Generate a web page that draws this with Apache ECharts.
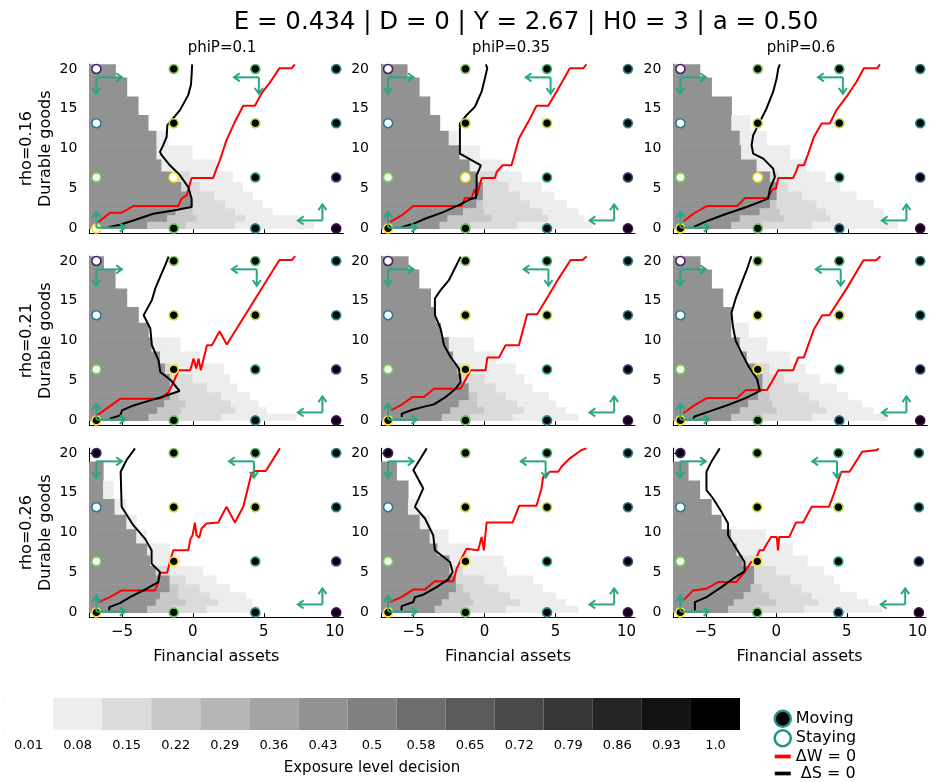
<!DOCTYPE html>
<html><head><meta charset="utf-8">
<script src="https://cdn.jsdelivr.net/npm/echarts@6/dist/echarts.min.js"></script>
<style>html,body{margin:0;padding:0;background:#fff}#c{width:930px;height:782px}</style>
</head><body><div id="c"></div>
<script>
// ---------------- text ----------------
const supTitle = 'E = 0.434 | D = 0 | Y = 2.67 | H0 = 3 | a = 0.50';
const colTitles = ['phiP=0.1', 'phiP=0.35', 'phiP=0.6'];
const rowTitles = ['rho=0.16', 'rho=0.21', 'rho=0.26'];
const yAxisTitle = 'Durable goods';
const xAxisTitle = 'Financial assets';
const yTicks = [0, 5, 10, 15, 20];
const xTicks = [-5, 0, 5, 10];
const colorbarTicks = ['0.01','0.08','0.15','0.22','0.29','0.36','0.43','0.5','0.58','0.65','0.72','0.79','0.86','0.93','1.0'];
const colorbarTitle = 'Exposure level decision';
const legendNames = ['Moving', 'Staying', 'ΔW = 0', ' ΔS = 0'];

// ---------------- state grid points ----------------
const stateX = [-6.8, -1.35, 4.4, 10.1];
const stateY = [0, 6.4, 13.2, 20];
// tone of the marker edge, per x index then y index (0..1 on viridis)
const edgeTone = [[1.0, 0.8, 0.4, 0.08], [0.75, 1.0, 0.9, 0.8], [0.45, 0.65, 0.88, 0.7], [0.02, 0.25, 0.5, 0.5]];
// staying states [xIndex, yIndex]
const staying_r1c1 = [[0,0],[0,1],[0,2],[0,3],[1,1]];
const staying_r1c2 = [[0,1],[0,2],[0,3],[1,1]];
const staying_r1c3 = [[0,1],[0,2],[0,3],[1,1]];
const staying_r2c1 = [[0,1],[0,2],[0,3]];
const staying_r2c2 = [[0,1],[0,2],[0,3]];
const staying_r2c3 = [[0,1],[0,2],[0,3]];
const staying_r3c1 = [[0,1],[0,2]];
const staying_r3c2 = [[0,1],[0,2]];
const staying_r3c3 = [[0,1],[0,2]];

// ---------------- exposure map ----------------
// durable-goods row edges (top to bottom)
const rowEdges = [20.6, 18.9, 16.5, 14.2, 12.2, 10.4, 8.6, 7.1, 5.8, 4.6, 3.5, 2.5, 1.6, 0.8, -0.05];
// exposure level of each band, left to right
const exposureLevels = [0.43, 0.22, 0.15, 0.08];
// per row: right end (financial assets) of each band
const exposure_r1c1 = [[-5.45,-5.45,-5.45,-5.45],[-4.65,-4.65,-4.65,-4.65],[-3.85,-3.85,-3.85,-3.85],[-3.15,-3.15,-3.15,-3.15],[-2.55,-2.55,-2.55,-1.75],[-2.55,-2.55,-2.55,-0.05],[-2.2,-2.2,-2.2,1.65],[-1.5,-1.5,-0.2,2.8],[-0.8,-0.8,0.5,3.5],[-0.1,-0.1,1.5,4.2],[0.0,0.0,2.3,4.9],[-1.2,0.0,3.0,5.6],[-1.8,0.3,3.7,7.4],[-3.2,-0.5,3.0,8.5]];
const exposure_r1c2 = [[-5.45,-5.45,-5.45,-5.45],[-4.6,-4.6,-4.6,-4.6],[-3.85,-3.85,-3.85,-3.85],[-3.15,-3.15,-3.15,-3.15],[-2.51,-2.51,-2.51,-1.93],[-1.74,-1.74,-1.74,-0.33],[-1.03,-1.03,-1.03,1.2],[-0.56,-0.56,0.98,2.6],[-0.1,-0.1,1.7,4.0],[-0.1,-0.1,2.5,4.9],[-0.56,-0.1,3.2,5.8],[-1.5,0.0,4.1,6.6],[-2.6,0.5,4.5,7.0],[-3.15,-1.0,2.3,7.6]];
const exposure_r1c3 = [[-5.42,-5.42,-5.42,-5.42],[-4.6,-4.6,-4.6,-4.6],[-3.19,-3.19,-3.19,-3.19],[-3.19,-3.19,-3.19,-1.9],[-2.6,-2.6,-2.6,-0.72],[-2.5,-2.5,-2.5,0.92],[-1.41,-1.41,-1.41,2.1],[-0.47,-0.47,0.1,3.4],[0.0,0.0,0.8,4.44],[0.0,0.0,1.8,5.6],[-0.47,0.0,2.8,6.8],[-1.2,0.2,3.5,7.5],[-2.6,0.5,3.8,7.5],[-3.2,-1.0,2.5,8.5]];
const exposure_r2c1 = [[-6.29,-6.29,-6.29,-6.29],[-5.47,-5.47,-5.47,-5.47],[-4.65,-4.65,-4.65,-4.65],[-3.83,-3.83,-3.83,-3.83],[-3.13,-3.13,-3.13,-3.13],[-2.9,-2.9,-2.9,-0.9],[-2.3,-2.3,-2.3,0.5],[-1.95,-1.95,-1.0,2.16],[-1.6,-1.6,0.0,2.6],[-1.6,-1.6,1.0,3.1],[-1.6,-1.0,2.0,4.0],[-2.0,-0.5,2.7,4.6],[-2.5,-0.8,3.0,5.2],[-3.1,-1.0,2.0,7.3]];
const exposure_r2c2 = [[-5.38,-5.38,-5.38,-5.38],[-4.62,-4.62,-4.62,-4.62],[-3.8,-3.8,-3.8,-3.8],[-3.45,-3.45,-3.45,-3.45],[-3.1,-3.1,-3.1,-3.1],[-2.5,-2.5,-2.5,-0.76],[-2.2,-2.2,-2.2,0.75],[-1.9,-1.9,-1.0,2.17],[-1.6,-1.6,0.0,2.8],[-1.1,-1.1,0.8,3.35],[-1.1,-0.5,1.5,4.5],[-1.8,-0.5,2.3,5.0],[-2.4,0.0,2.8,5.7],[-3.0,-1.0,2.0,6.6]];
const exposure_r2c3 = [[-5.4,-5.4,-5.4,-5.4],[-4.6,-4.6,-4.6,-4.6],[-3.8,-3.8,-3.8,-3.8],[-3.2,-3.2,-3.2,-3.2],[-3.2,-3.2,-3.2,-2.0],[-2.6,-2.6,-2.6,-0.7],[-2.1,-2.1,-2.1,0.9],[-1.5,-1.5,-0.5,2.0],[-1.0,-1.0,0.5,3.0],[-1.0,-1.0,1.5,4.2],[-1.3,-0.5,2.3,5.0],[-2.0,-0.3,3.0,6.0],[-2.6,0.0,3.5,6.8],[-3.2,-1.0,2.5,7.8]];
const exposure_r3c1 = [[-7.3,-7.3,-7.3,-7.3],[-6.31,-6.31,-6.31,-6.31],[-6.31,-6.31,-6.31,-5.6],[-5.5,-5.5,-5.5,-4.7],[-4.67,-4.67,-4.67,-3.97],[-3.97,-3.97,-3.97,-3.27],[-3.2,-3.2,-3.2,-1.63],[-3.0,-3.0,-3.0,-0.93],[-2.6,-2.6,-1.6,0.71],[-1.63,-1.63,-0.5,1.65],[-1.63,-1.0,0.5,2.59],[-2.3,-1.0,1.2,3.76],[-2.6,-0.5,1.8,4.2],[-3.2,-1.5,1.0,4.7]];
const exposure_r3c2 = [[-7.3,-7.3,-7.3,-7.3],[-6.2,-6.2,-6.2,-6.2],[-5.38,-5.38,-5.38,-5.38],[-5.38,-5.38,-5.38,-4.55],[-4.55,-4.55,-4.55,-3.85],[-3.85,-3.85,-3.85,-2.56],[-3.3,-3.3,-3.3,-1.04],[-2.45,-2.45,-2.45,1.3],[-2.45,-2.45,-1.5,1.55],[-2.0,-2.0,0.0,3.4],[-2.0,-1.5,1.0,4.1],[-2.5,-1.0,1.8,5.0],[-3.0,-0.8,2.5,5.7],[-3.5,-1.5,1.5,6.6]];
const exposure_r3c3 = [[-7.3,-7.3,-7.3,-7.3],[-6.24,-6.24,-6.24,-6.24],[-5.42,-5.42,-5.42,-5.42],[-4.6,-4.6,-4.6,-4.6],[-3.9,-3.9,-3.9,-3.9],[-3.19,-3.19,-3.19,-0.73],[-2.8,-2.8,-2.8,1.15],[-2.37,-2.37,-1.0,2.2],[-1.55,-1.55,0.0,3.37],[-1.55,-1.55,1.0,4.08],[-1.8,-1.0,1.8,4.5],[-2.3,-0.5,2.5,5.7],[-3.0,0.0,3.0,6.5],[-3.4,-1.5,2.0,7.5]];

// ---------------- ΔW = 0 and ΔS = 0 curves ----------------
const dW_r1c1 = [[-6.66,0.79],[-5.84,1.97],[-5.02,1.97],[-4.2,2.8],[-1.03,2.8],[-0.8,3.73],[-0.44,4.15],[-0.09,6.33],[1.43,6.33],[1.67,7.5],[1.9,8.55],[2.37,11.07],[2.96,13.37],[3.55,15.38],[4.37,15.38],[4.84,16.94],[5.55,18.61],[6.09,20.08],[6.95,20.08],[7.19,20.58]];
const dS_r1c1 = [[-5.96,0.16],[-5.14,0.46],[-4.2,1.0],[-2.79,1.84],[-1.38,2.26],[-0.09,2.68],[-0.09,3.73],[-0.33,5.2],[-0.91,6.66],[-1.62,7.92],[-2.2,9.18],[-2.32,9.6],[-2.09,10.44],[-1.85,11.49],[-1.8,12.95],[-1.5,13.58],[-0.91,14.84],[-0.33,16.72],[-0.14,17.98],[-0.09,19.24],[-0.05,20.58]];
const dW_r1c2 = [[-6.67,0.79],[-5.85,1.63],[-5.02,2.81],[-1.62,2.81],[-1.39,3.81],[-0.92,3.81],[-0.7,4.9],[-0.55,4.1],[-0.2,6.33],[0.73,6.33],[0.85,7.08],[1.27,7.92],[1.9,7.92],[2.42,11.27],[3.08,13.37],[3.66,15.38],[4.48,15.38],[5.07,17.15],[6.01,20.08],[6.95,20.08],[7.18,20.58]];
const dS_r1c2 = [[-5.85,0.16],[-5.02,0.58],[-4.2,1.21],[-2.91,2.05],[-1.86,2.89],[-0.92,3.73],[-0.61,3.81],[-0.56,5.19],[-0.56,6.66],[-0.26,7.92],[-1.74,9.39],[-1.74,13.16],[-1.27,14.21],[-0.68,15.26],[-0.21,17.15],[0.02,18.82],[0.19,20.08],[0.09,20.58]];
const dW_r1c3 = [[-6.59,0.87],[-5.89,1.84],[-4.95,2.81],[-2.79,2.81],[-2.25,3.81],[-0.68,3.81],[-0.26,4.98],[-0.07,4.98],[0.1,6.33],[1.15,6.33],[1.39,7.29],[1.5,7.92],[1.9,7.92],[2.21,9.39],[2.61,11.48],[3.15,13.16],[3.73,13.16],[4.2,14.84],[4.91,16.52],[5.61,18.4],[6.13,20.08],[7.07,20.08],[7.26,20.58]];
const dS_r1c3 = [[-5.89,0.16],[-5.77,0.37],[-4.83,1.0],[-3.54,1.84],[-2.13,2.68],[-0.61,3.73],[-0.49,4.98],[-0.14,6.45],[-0.26,7.5],[-0.96,8.76],[-1.67,9.39],[-1.78,10.44],[-1.67,11.69],[-1.2,13.37],[-0.73,15.05],[-0.26,17.15],[-0.02,18.82],[0.1,20.08],[0.21,20.58]];
const dW_r2c1 = [[-6.76,0.63],[-5.94,1.67],[-5.12,2.72],[-2.3,2.72],[-1.71,3.56],[-1.36,4.82],[-1.01,6.29],[-0.19,6.29],[0.05,7.75],[0.24,6.5],[0.4,7.75],[0.56,6.29],[0.99,9.43],[1.34,9.43],[1.88,11.19],[2.39,9.52],[6.1,20.12],[6.97,20.12],[7.21,20.6]];
const dS_r2c1 = [[-5.87,0.21],[-5.12,0.63],[-5.0,1.25],[-4.18,1.88],[-3.24,2.39],[-2.18,2.93],[-0.94,3.69],[-1.55,5.03],[-2.3,6.08],[-2.42,7.54],[-2.89,9.43],[-3.0,11.53],[-3.47,13.2],[-2.89,15.09],[-2.65,16.56],[-2.3,18.03],[-1.95,19.49],[-1.71,20.54]];
const dW_r2c2 = [[-6.62,1.25],[-5.92,1.88],[-5.09,2.93],[-4.27,2.93],[-3.57,3.98],[-1.69,3.98],[-0.99,6.29],[0.07,6.29],[0.19,7.88],[1.01,7.88],[1.48,9.43],[2.42,9.43],[3.0,13.33],[3.71,13.33],[4.53,15.72],[5.23,17.82],[6.06,20.12],[6.9,20.12],[7.2,20.6]];
const dS_r2c2 = [[-5.84,0.42],[-5.84,0.83],[-5.09,1.34],[-4.39,1.67],[-3.57,2.01],[-2.75,2.93],[-2.04,3.98],[-1.69,4.82],[-1.81,6.5],[-2.39,7.96],[-2.86,9.43],[-3.1,11.53],[-3.5,13.2],[-3.5,15.3],[-3.1,16.35],[-2.51,17.61],[-2.04,19.28],[-1.69,20.54]];
const dW_r2c3 = [[-6.6,0.9],[-5.9,1.8],[-4.95,2.8],[-2.8,2.8],[-2.2,3.8],[-0.7,3.8],[-0.3,5.0],[0.1,6.3],[1.15,6.3],[1.5,7.9],[1.9,7.9],[2.6,11.4],[3.2,13.2],[3.7,13.2],[4.9,16.5],[6.1,20.1],[7.0,20.1],[7.3,20.6]];
const dS_r2c3 = [[-5.9,0.2],[-5.8,0.5],[-4.8,1.1],[-3.5,1.9],[-2.2,2.8],[-1.2,3.7],[-1.4,5.2],[-2.0,6.8],[-2.5,8.5],[-2.9,10.0],[-3.1,11.8],[-3.2,13.5],[-2.9,15.3],[-2.5,17.2],[-2.1,19.0],[-1.8,20.6]];
const dW_r3c1 = [[-6.66,1.3],[-5.84,1.92],[-5.02,2.76],[-2.67,2.76],[-2.44,3.81],[-2.32,4.99],[-1.81,4.99],[-1.62,6.41],[-1.38,7.79],[-0.33,7.79],[-0.16,9.26],[-0.02,9.68],[0.14,11.27],[0.26,9.68],[0.45,9.35],[0.61,10.52],[0.97,11.15],[1.79,11.27],[2.37,13.25],[2.96,11.27],[3.55,13.25],[4.13,17.44],[4.37,17.73],[5.14,17.73],[6.13,20.58]];
const dS_r3c1 = [[-5.89,0.25],[-5.89,0.67],[-5.14,1.17],[-4.43,1.92],[-3.26,2.97],[-2.44,3.81],[-2.32,5.07],[-2.91,6.12],[-2.91,7.79],[-3.38,9.26],[-4.2,10.94],[-5.02,13.25],[-5.09,17.65],[-4.67,19.12],[-4.08,20.58]];
const dW_r3c2 = [[-6.67,1.3],[-5.85,1.92],[-5.02,2.89],[-4.2,2.89],[-3.5,3.9],[-2.21,3.9],[-1.97,5.49],[-1.74,6.33],[-1.27,8.0],[-0.45,7.79],[-0.21,9.47],[-0.05,7.79],[0.14,11.27],[1.97,11.27],[2.44,13.37],[3.66,13.37],[4.01,15.55],[4.13,17.02],[4.6,17.65],[5.19,17.65],[5.42,18.28],[6.01,19.33],[6.83,20.37],[7.18,20.58]];
const dS_r3c2 = [[-5.85,0.25],[-5.85,0.79],[-5.02,1.3],[-4.91,1.92],[-4.32,2.22],[-3.38,3.18],[-2.56,4.15],[-2.25,5.07],[-2.44,6.33],[-3.5,7.79],[-3.62,9.68],[-4.2,11.78],[-4.91,13.25],[-4.32,15.55],[-5.02,17.86],[-4.44,19.54],[-4.08,20.58]];
const dW_r3c3 = [[-6.59,1.51],[-5.89,2.76],[-4.95,2.97],[-4.13,3.81],[-2.84,3.81],[-2.25,5.07],[-2.09,5.49],[-1.78,6.33],[-1.55,6.33],[-1.19,7.79],[-0.91,7.79],[-0.73,8.42],[-0.37,9.47],[0.03,9.47],[0.12,7.79],[0.21,9.47],[0.92,9.47],[1.39,11.27],[1.9,11.27],[2.51,13.25],[3.73,13.25],[4.09,14.92],[4.44,16.81],[4.63,17.65],[5.19,17.65],[6.08,20.16],[7.14,20.37],[7.26,20.58]];
const dS_r3c3 = [[-5.77,0.25],[-5.77,1.3],[-4.95,1.92],[-3.89,3.18],[-3.07,4.23],[-2.25,5.15],[-2.25,6.33],[-3.42,9.68],[-3.42,11.15],[-3.89,12.62],[-4.48,14.29],[-4.95,15.34],[-4.95,17.65],[-4.6,18.91],[-4.01,20.58]];

// ---------------- direction arrows [x0, y0, x1, y1] ----------------
const arrows_row1 = [[-6.8,18.95,-5.0,18.95],[-6.8,18.95,-6.8,16.9],[4.65,18.95,2.9,18.95],[4.65,18.95,4.65,16.9],[-6.8,0.1,-6.8,2.1],[-6.8,0.1,-4.75,0.1],[9.13,1.0,7.4,1.0],[9.13,1.0,9.13,3.0]];
const arrows_row2 = [[-6.8,18.95,-5.0,18.95],[-6.8,18.95,-6.8,16.9],[4.5,18.95,2.75,18.95],[4.5,18.95,4.5,16.9],[-6.8,0.1,-6.8,2.1],[-6.8,0.1,-4.75,0.1],[9.13,1.0,7.4,1.0],[9.13,1.0,9.13,3.0]];
const arrows_row3 = [[-6.8,18.95,-5.0,18.95],[-6.8,18.95,-6.8,16.9],[4.3,18.95,2.55,18.95],[4.3,18.95,4.3,16.9],[-6.8,0.1,-6.8,2.1],[-6.8,0.1,-4.75,0.1],[9.13,1.0,7.4,1.0],[9.13,1.0,9.13,3.0]];

// ---------------- layout & style ----------------
const X_MIN = -7.3, X_MAX = 10.6, Y_MIN = -0.6, Y_MAX = 20.6;
const colLeft = [89.3, 381, 673.3];
const rowTop = [64.2, 256.2, 448.2];
const colTitleX = [217, 506, 796];
const panelW = 254, panelH = 169;
const FONT = 'DejaVu Sans';
const arrowColor = '#2aa683';

const panels = [
  [exposure_r1c1, dW_r1c1, dS_r1c1, staying_r1c1, arrows_row1],
  [exposure_r1c2, dW_r1c2, dS_r1c2, staying_r1c2, arrows_row1],
  [exposure_r1c3, dW_r1c3, dS_r1c3, staying_r1c3, arrows_row1],
  [exposure_r2c1, dW_r2c1, dS_r2c1, staying_r2c1, arrows_row2],
  [exposure_r2c2, dW_r2c2, dS_r2c2, staying_r2c2, arrows_row2],
  [exposure_r2c3, dW_r2c3, dS_r2c3, staying_r2c3, arrows_row2],
  [exposure_r3c1, dW_r3c1, dS_r3c1, staying_r3c1, arrows_row3],
  [exposure_r3c2, dW_r3c2, dS_r3c2, staying_r3c2, arrows_row3],
  [exposure_r3c3, dW_r3c3, dS_r3c3, staying_r3c3, arrows_row3]
];

function greyFor(v) {
  const idx = Math.round((v - 0.01) / 0.07);
  const g = Math.round(255 * (1 - idx / 14));
  return 'rgb(' + g + ',' + g + ',' + g + ')';
}
const viridisStops = ['#440154','#482475','#414487','#355f8d','#2a788e','#21918c','#22a884','#44bf70','#7ad151','#bddf26','#fde725'];
function hexRgb(h) { return [parseInt(h.slice(1,3),16), parseInt(h.slice(3,5),16), parseInt(h.slice(5,7),16)]; }
function viridis(t) {
  t = Math.max(0, Math.min(1, t));
  const p = t * 10, i = Math.min(9, Math.floor(p)), f = p - i;
  const a = hexRgb(viridisStops[i]), b = hexRgb(viridisStops[i + 1]);
  return 'rgb(' + a.map((v, k) => Math.round(v + (b[k] - v) * f)).join(',') + ')';
}
function fmtTick(v) { return v < 0 ? '\u2212' + Math.abs(v) : String(v); }

function renderCell(params, api) {
  const x0 = api.value(0), x1 = api.value(1), y0 = api.value(2), y1 = api.value(3);
  const p0 = api.coord([x0, y1]);
  const p1 = api.coord([x1, y0]);
  return {
    type: 'rect',
    shape: { x: p0[0] - 0.3, y: p0[1] - 0.3, width: p1[0] - p0[0] + 0.6, height: p1[1] - p0[1] + 0.6 },
    style: { fill: greyFor(api.value(4)) }
  };
}
function renderArrow(params, api) {
  const a = api.coord([api.value(0), api.value(1)]);
  const b = api.coord([api.value(2), api.value(3)]);
  const ang = Math.atan2(b[1] - a[1], b[0] - a[0]);
  const hl = 7, hw = 0.62;
  const h1 = [b[0] - hl * Math.cos(ang - hw), b[1] - hl * Math.sin(ang - hw)];
  const h2 = [b[0] - hl * Math.cos(ang + hw), b[1] - hl * Math.sin(ang + hw)];
  return {
    type: 'group',
    children: [
      { type: 'line', shape: { x1: a[0], y1: a[1], x2: b[0], y2: b[1] }, style: { stroke: arrowColor, lineWidth: 2 } },
      { type: 'polyline', shape: { points: [h1, b, h2] }, style: { stroke: arrowColor, lineWidth: 2, fill: null } }
    ]
  };
}

const grids = [], xAxes = [], yAxes = [], series = [];
panels.forEach((pn, i) => {
  const r = Math.floor(i / 3), c = i % 3;
  const [exp, dW, dS, stay, arrows] = pn;
  grids.push({ left: colLeft[c], top: rowTop[r], width: panelW, height: panelH });
  xAxes.push({
    gridIndex: i, type: 'value', min: X_MIN, max: X_MAX,
    axisLine: { show: true, onZero: false, lineStyle: { color: '#000', width: 1 } },
    axisTick: { show: true, inside: true, length: 4, customValues: xTicks, lineStyle: { color: '#000' } },
    axisLabel: { show: r === 2, customValues: xTicks, formatter: fmtTick, margin: 7, fontSize: 15, color: '#000', fontFamily: FONT },
    splitLine: { show: false },
    name: r === 2 ? xAxisTitle : '', nameLocation: 'middle', nameGap: 32,
    nameTextStyle: { fontSize: 16, color: '#000', fontFamily: FONT }
  });
  yAxes.push({
    gridIndex: i, type: 'value', min: Y_MIN, max: Y_MAX,
    axisLine: { show: true, onZero: false, lineStyle: { color: '#000', width: 1 } },
    axisTick: { show: true, inside: true, length: 4, customValues: yTicks, lineStyle: { color: '#000' } },
    axisLabel: { show: true, customValues: yTicks, margin: 12, fontSize: 14, color: '#000', fontFamily: FONT },
    splitLine: { show: false },
    name: c === 0 ? rowTitles[r] + '\n' + yAxisTitle : '', nameLocation: 'middle', nameRotate: 90, nameGap: 34,
    nameTextStyle: { fontSize: 16, color: '#000', fontFamily: FONT, lineHeight: 19, align: 'center' }
  });

  // exposure cells
  const cells = [];
  exp.forEach((row, k) => {
    const yTop = rowEdges[k], yBot = rowEdges[k + 1];
    const bounds = [X_MIN].concat(row);
    for (let lev = 0; lev < exposureLevels.length; lev++) {
      const x0 = bounds[lev], x1 = bounds[lev + 1];
      if (x1 > x0 + 1e-6) cells.push([x0, x1, yBot, yTop, exposureLevels[lev]]);
    }
  });
  series.push({
    type: 'custom', xAxisIndex: i, yAxisIndex: i, renderItem: renderCell, data: cells,
    encode: { x: [0, 1], y: [2, 3] }, clip: true, silent: true, z: 1
  });
  series.push({
    type: 'line', name: legendNames[2], xAxisIndex: i, yAxisIndex: i, data: dW, showSymbol: false, symbol: 'none',
    color: '#ff0000', lineStyle: { color: '#ff0000', width: 2 }, clip: true, silent: true, z: 2
  });
  series.push({
    type: 'line', name: legendNames[3], xAxisIndex: i, yAxisIndex: i, data: dS, showSymbol: false, symbol: 'none',
    color: '#000000', lineStyle: { color: '#000000', width: 2 }, clip: true, silent: true, z: 3
  });
  const moving = [], staying = [];
  stateX.forEach((sx, xi) => {
    stateY.forEach((sy, yi) => {
      const item = { value: [sx, sy], itemStyle: { borderColor: viridis(edgeTone[xi][yi]) } };
      if (stay.some(p => p[0] === xi && p[1] === yi)) staying.push(item); else moving.push(item);
    });
  });
  series.push({
    type: 'scatter', name: legendNames[0], xAxisIndex: i, yAxisIndex: i, data: moving, symbol: 'circle', symbolSize: 9,
    itemStyle: { color: '#000', borderWidth: 1.6, opacity: 1 }, silent: true, z: 4
  });
  series.push({
    type: 'scatter', name: legendNames[1], xAxisIndex: i, yAxisIndex: i, data: staying, symbol: 'circle', symbolSize: 9,
    itemStyle: { color: '#fff', borderWidth: 1.6, opacity: 1 }, silent: true, z: 4
  });
  series.push({
    type: 'custom', xAxisIndex: i, yAxisIndex: i, renderItem: renderArrow, data: arrows,
    encode: { x: [0, 2], y: [1, 3] }, clip: false, silent: true, z: 5
  });
});

// colorbar
const cbIndex = panels.length;
grids.push({ left: 4, top: 698, width: 736, height: 32 });
xAxes.push({
  gridIndex: cbIndex, type: 'category', data: colorbarTicks,
  axisLine: { show: false }, axisTick: { show: false },
  axisLabel: { interval: 0, margin: 9, fontSize: 13, color: '#000', fontFamily: FONT },
  name: colorbarTitle, nameLocation: 'middle', nameGap: 31,
  nameTextStyle: { fontSize: 15, color: '#000', fontFamily: FONT }
});
yAxes.push({
  gridIndex: cbIndex, type: 'value', min: 0, max: 1,
  axisLine: { show: true, lineStyle: { color: '#999', width: 1 } },
  axisTick: { show: false }, axisLabel: { show: false }, splitLine: { show: false }
});
series.push({
  type: 'bar', xAxisIndex: cbIndex, yAxisIndex: cbIndex, barWidth: '100%', barCategoryGap: 0, silent: true,
  data: colorbarTicks.map(t => ({ value: 1, itemStyle: { color: greyFor(parseFloat(t)) } }))
});

const titles = [{
  text: supTitle, left: 521, top: 5, textAlign: 'center',
  textStyle: { fontSize: 24.5, fontWeight: 'normal', color: '#000', fontFamily: FONT }
}];
colTitles.forEach((t, c) => titles.push({
  text: t, left: colTitleX[c], top: 36, textAlign: 'center',
  textStyle: { fontSize: 15, fontWeight: 'normal', color: '#000', fontFamily: FONT }
}));

const linePath = 'path://M0,0H13V3H0Z';
const option = {
  animation: false,
  backgroundColor: '#fff',
  textStyle: { fontFamily: FONT },
  title: titles,
  grid: grids, xAxis: xAxes, yAxis: yAxes, series: series,
  legend: {
    orient: 'vertical', left: 773.5, top: 709.5, padding: 0, itemGap: 1.0, itemWidth: 16, itemHeight: 16,
    height: 80, selectedMode: false,
    textStyle: { fontSize: 16, color: '#000', fontFamily: FONT },
    data: [
      { name: legendNames[0], icon: 'circle', itemStyle: { color: '#000', borderColor: '#21918c', borderWidth: 2.5 } },
      { name: legendNames[1], icon: 'circle', itemStyle: { color: '#fff', borderColor: '#21918c', borderWidth: 2.5 } },
      { name: legendNames[2], icon: linePath, itemStyle: { color: '#ff0000', borderWidth: 0 } },
      { name: legendNames[3], icon: linePath, itemStyle: { color: '#000', borderWidth: 0 } }
    ]
  }
};
const chart = echarts.init(document.getElementById('c'), null, { renderer: 'canvas', width: 930, height: 782 });
chart.setOption(option);
</script>
</body></html>
